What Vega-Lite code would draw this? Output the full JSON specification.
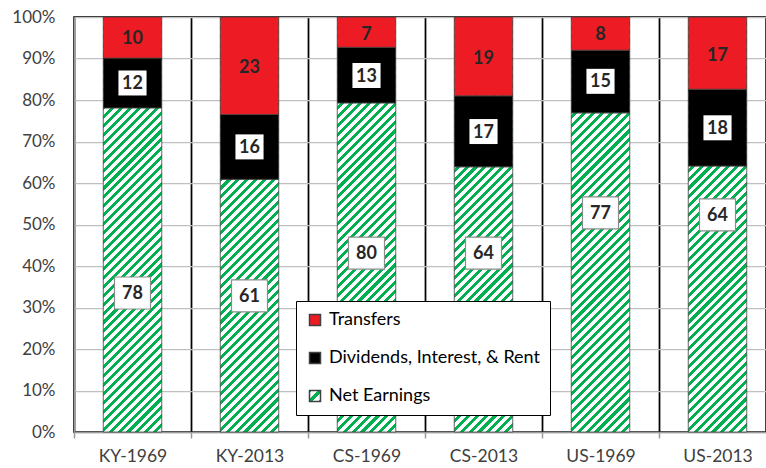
{
  "$schema": "https://vega.github.io/schema/vega-lite/v6.json",
  "width": 692,
  "height": 415,
  "autosize": {"type": "none"},
  "padding": {"left": 74, "top": 17, "right": 0, "bottom": 36},
  "background": "#ffffff",
  "data": {
    "values": [
      {"cat": "KY-1969", "series": "Net Earnings", "value": 78.1, "label": "78", "ly": 33.5},
      {"cat": "KY-1969", "series": "Dividends, Interest, & Rent", "value": 12.0, "label": "12", "ly": 84.1},
      {"cat": "KY-1969", "series": "Transfers", "value": 9.9, "label": "10", "ly": 95.0},
      {"cat": "KY-2013", "series": "Net Earnings", "value": 60.9, "label": "61", "ly": 32.8},
      {"cat": "KY-2013", "series": "Dividends, Interest, & Rent", "value": 15.6, "label": "16", "ly": 68.7},
      {"cat": "KY-2013", "series": "Transfers", "value": 23.5, "label": "23", "ly": 88.0},
      {"cat": "CS-1969", "series": "Net Earnings", "value": 79.3, "label": "80", "ly": 43.1},
      {"cat": "CS-1969", "series": "Dividends, Interest, & Rent", "value": 13.4, "label": "13", "ly": 85.9},
      {"cat": "CS-1969", "series": "Transfers", "value": 7.3, "label": "7", "ly": 96.0},
      {"cat": "CS-2013", "series": "Net Earnings", "value": 63.9, "label": "64", "ly": 43.1},
      {"cat": "CS-2013", "series": "Dividends, Interest, & Rent", "value": 17.1, "label": "17", "ly": 72.4},
      {"cat": "CS-2013", "series": "Transfers", "value": 19.0, "label": "19", "ly": 90.2},
      {"cat": "US-1969", "series": "Net Earnings", "value": 76.9, "label": "77", "ly": 52.8},
      {"cat": "US-1969", "series": "Dividends, Interest, & Rent", "value": 15.1, "label": "15", "ly": 84.5},
      {"cat": "US-1969", "series": "Transfers", "value": 8.0, "label": "8", "ly": 95.8},
      {"cat": "US-2013", "series": "Net Earnings", "value": 64.1, "label": "64", "ly": 52.3},
      {"cat": "US-2013", "series": "Dividends, Interest, & Rent", "value": 18.5, "label": "18", "ly": 73.3},
      {"cat": "US-2013", "series": "Transfers", "value": 17.4, "label": "17", "ly": 90.9}
    ]
  },
  "encoding": {
    "x": {
      "field": "cat",
      "type": "nominal",
      "sort": ["KY-1969", "KY-2013", "CS-1969", "CS-2013", "US-1969", "US-2013"],
      "scale": {"paddingInner": 0, "paddingOuter": 0, "rangeMax": 702},
      "axis": {
        "title": null,
        "labelAngle": 0,
        "tickBand": "extent",
        "grid": true,
        "gridColor": "#000000",
        "gridWidth": 1.75,
        "domainColor": "#9a9a9a",
        "domainWidth": 1.5,
        "tickColor": "#9a9a9a",
        "tickWidth": 1.5,
        "tickSize": 6,
        "labelFontSize": 17.5,
        "labelColor": "#404040",
        "labelPadding": 9,
        "labelFont": "Lato"
      }
    }
  },
  "layer": [
    {
      "mark": {
        "type": "bar",
        "width": {"band": 0.5},
        "stroke": null,
        "fill": {
          "gradient": "linear",
          "x1": 0, "y1": 0, "x2": 0.1577, "y2": 1.11873,
          "stops": [
            {"offset": 0, "color": "#00b050"}, {"offset": 0.0085, "color": "#00b050"}, {"offset": 0.0085, "color": "#fff"}, {"offset": 0.0189, "color": "#fff"},
            {"offset": 0.0189, "color": "#00b050"}, {"offset": 0.0274, "color": "#00b050"}, {"offset": 0.0274, "color": "#fff"}, {"offset": 0.0377, "color": "#fff"},
            {"offset": 0.0377, "color": "#00b050"}, {"offset": 0.0462, "color": "#00b050"}, {"offset": 0.0462, "color": "#fff"}, {"offset": 0.0566, "color": "#fff"},
            {"offset": 0.0566, "color": "#00b050"}, {"offset": 0.0651, "color": "#00b050"}, {"offset": 0.0651, "color": "#fff"}, {"offset": 0.0755, "color": "#fff"},
            {"offset": 0.0755, "color": "#00b050"}, {"offset": 0.0840, "color": "#00b050"}, {"offset": 0.0840, "color": "#fff"}, {"offset": 0.0943, "color": "#fff"},
            {"offset": 0.0943, "color": "#00b050"}, {"offset": 0.1028, "color": "#00b050"}, {"offset": 0.1028, "color": "#fff"}, {"offset": 0.1132, "color": "#fff"},
            {"offset": 0.1132, "color": "#00b050"}, {"offset": 0.1217, "color": "#00b050"}, {"offset": 0.1217, "color": "#fff"}, {"offset": 0.1321, "color": "#fff"},
            {"offset": 0.1321, "color": "#00b050"}, {"offset": 0.1406, "color": "#00b050"}, {"offset": 0.1406, "color": "#fff"}, {"offset": 0.1509, "color": "#fff"},
            {"offset": 0.1509, "color": "#00b050"}, {"offset": 0.1594, "color": "#00b050"}, {"offset": 0.1594, "color": "#fff"}, {"offset": 0.1698, "color": "#fff"},
            {"offset": 0.1698, "color": "#00b050"}, {"offset": 0.1783, "color": "#00b050"}, {"offset": 0.1783, "color": "#fff"}, {"offset": 0.1887, "color": "#fff"},
            {"offset": 0.1887, "color": "#00b050"}, {"offset": 0.1972, "color": "#00b050"}, {"offset": 0.1972, "color": "#fff"}, {"offset": 0.2075, "color": "#fff"},
            {"offset": 0.2075, "color": "#00b050"}, {"offset": 0.2160, "color": "#00b050"}, {"offset": 0.2160, "color": "#fff"}, {"offset": 0.2264, "color": "#fff"},
            {"offset": 0.2264, "color": "#00b050"}, {"offset": 0.2349, "color": "#00b050"}, {"offset": 0.2349, "color": "#fff"}, {"offset": 0.2453, "color": "#fff"},
            {"offset": 0.2453, "color": "#00b050"}, {"offset": 0.2538, "color": "#00b050"}, {"offset": 0.2538, "color": "#fff"}, {"offset": 0.2642, "color": "#fff"},
            {"offset": 0.2642, "color": "#00b050"}, {"offset": 0.2727, "color": "#00b050"}, {"offset": 0.2727, "color": "#fff"}, {"offset": 0.2830, "color": "#fff"},
            {"offset": 0.2830, "color": "#00b050"}, {"offset": 0.2915, "color": "#00b050"}, {"offset": 0.2915, "color": "#fff"}, {"offset": 0.3019, "color": "#fff"},
            {"offset": 0.3019, "color": "#00b050"}, {"offset": 0.3104, "color": "#00b050"}, {"offset": 0.3104, "color": "#fff"}, {"offset": 0.3208, "color": "#fff"},
            {"offset": 0.3208, "color": "#00b050"}, {"offset": 0.3293, "color": "#00b050"}, {"offset": 0.3293, "color": "#fff"}, {"offset": 0.3396, "color": "#fff"},
            {"offset": 0.3396, "color": "#00b050"}, {"offset": 0.3481, "color": "#00b050"}, {"offset": 0.3481, "color": "#fff"}, {"offset": 0.3585, "color": "#fff"},
            {"offset": 0.3585, "color": "#00b050"}, {"offset": 0.3670, "color": "#00b050"}, {"offset": 0.3670, "color": "#fff"}, {"offset": 0.3774, "color": "#fff"},
            {"offset": 0.3774, "color": "#00b050"}, {"offset": 0.3859, "color": "#00b050"}, {"offset": 0.3859, "color": "#fff"}, {"offset": 0.3962, "color": "#fff"},
            {"offset": 0.3962, "color": "#00b050"}, {"offset": 0.4047, "color": "#00b050"}, {"offset": 0.4047, "color": "#fff"}, {"offset": 0.4151, "color": "#fff"},
            {"offset": 0.4151, "color": "#00b050"}, {"offset": 0.4236, "color": "#00b050"}, {"offset": 0.4236, "color": "#fff"}, {"offset": 0.4340, "color": "#fff"},
            {"offset": 0.4340, "color": "#00b050"}, {"offset": 0.4425, "color": "#00b050"}, {"offset": 0.4425, "color": "#fff"}, {"offset": 0.4528, "color": "#fff"},
            {"offset": 0.4528, "color": "#00b050"}, {"offset": 0.4613, "color": "#00b050"}, {"offset": 0.4613, "color": "#fff"}, {"offset": 0.4717, "color": "#fff"},
            {"offset": 0.4717, "color": "#00b050"}, {"offset": 0.4802, "color": "#00b050"}, {"offset": 0.4802, "color": "#fff"}, {"offset": 0.4906, "color": "#fff"},
            {"offset": 0.4906, "color": "#00b050"}, {"offset": 0.4991, "color": "#00b050"}, {"offset": 0.4991, "color": "#fff"}, {"offset": 0.5094, "color": "#fff"},
            {"offset": 0.5094, "color": "#00b050"}, {"offset": 0.5179, "color": "#00b050"}, {"offset": 0.5179, "color": "#fff"}, {"offset": 0.5283, "color": "#fff"},
            {"offset": 0.5283, "color": "#00b050"}, {"offset": 0.5368, "color": "#00b050"}, {"offset": 0.5368, "color": "#fff"}, {"offset": 0.5472, "color": "#fff"},
            {"offset": 0.5472, "color": "#00b050"}, {"offset": 0.5557, "color": "#00b050"}, {"offset": 0.5557, "color": "#fff"}, {"offset": 0.5660, "color": "#fff"},
            {"offset": 0.5660, "color": "#00b050"}, {"offset": 0.5745, "color": "#00b050"}, {"offset": 0.5745, "color": "#fff"}, {"offset": 0.5849, "color": "#fff"},
            {"offset": 0.5849, "color": "#00b050"}, {"offset": 0.5934, "color": "#00b050"}, {"offset": 0.5934, "color": "#fff"}, {"offset": 0.6038, "color": "#fff"},
            {"offset": 0.6038, "color": "#00b050"}, {"offset": 0.6123, "color": "#00b050"}, {"offset": 0.6123, "color": "#fff"}, {"offset": 0.6226, "color": "#fff"},
            {"offset": 0.6226, "color": "#00b050"}, {"offset": 0.6311, "color": "#00b050"}, {"offset": 0.6311, "color": "#fff"}, {"offset": 0.6415, "color": "#fff"},
            {"offset": 0.6415, "color": "#00b050"}, {"offset": 0.6500, "color": "#00b050"}, {"offset": 0.6500, "color": "#fff"}, {"offset": 0.6604, "color": "#fff"},
            {"offset": 0.6604, "color": "#00b050"}, {"offset": 0.6689, "color": "#00b050"}, {"offset": 0.6689, "color": "#fff"}, {"offset": 0.6792, "color": "#fff"},
            {"offset": 0.6792, "color": "#00b050"}, {"offset": 0.6877, "color": "#00b050"}, {"offset": 0.6877, "color": "#fff"}, {"offset": 0.6981, "color": "#fff"},
            {"offset": 0.6981, "color": "#00b050"}, {"offset": 0.7066, "color": "#00b050"}, {"offset": 0.7066, "color": "#fff"}, {"offset": 0.7170, "color": "#fff"},
            {"offset": 0.7170, "color": "#00b050"}, {"offset": 0.7255, "color": "#00b050"}, {"offset": 0.7255, "color": "#fff"}, {"offset": 0.7358, "color": "#fff"},
            {"offset": 0.7358, "color": "#00b050"}, {"offset": 0.7443, "color": "#00b050"}, {"offset": 0.7443, "color": "#fff"}, {"offset": 0.7547, "color": "#fff"},
            {"offset": 0.7547, "color": "#00b050"}, {"offset": 0.7632, "color": "#00b050"}, {"offset": 0.7632, "color": "#fff"}, {"offset": 0.7736, "color": "#fff"},
            {"offset": 0.7736, "color": "#00b050"}, {"offset": 0.7821, "color": "#00b050"}, {"offset": 0.7821, "color": "#fff"}, {"offset": 0.7925, "color": "#fff"},
            {"offset": 0.7925, "color": "#00b050"}, {"offset": 0.8010, "color": "#00b050"}, {"offset": 0.8010, "color": "#fff"}, {"offset": 0.8113, "color": "#fff"},
            {"offset": 0.8113, "color": "#00b050"}, {"offset": 0.8198, "color": "#00b050"}, {"offset": 0.8198, "color": "#fff"}, {"offset": 0.8302, "color": "#fff"},
            {"offset": 0.8302, "color": "#00b050"}, {"offset": 0.8387, "color": "#00b050"}, {"offset": 0.8387, "color": "#fff"}, {"offset": 0.8491, "color": "#fff"},
            {"offset": 0.8491, "color": "#00b050"}, {"offset": 0.8576, "color": "#00b050"}, {"offset": 0.8576, "color": "#fff"}, {"offset": 0.8679, "color": "#fff"},
            {"offset": 0.8679, "color": "#00b050"}, {"offset": 0.8764, "color": "#00b050"}, {"offset": 0.8764, "color": "#fff"}, {"offset": 0.8868, "color": "#fff"},
            {"offset": 0.8868, "color": "#00b050"}, {"offset": 0.8953, "color": "#00b050"}, {"offset": 0.8953, "color": "#fff"}, {"offset": 0.9057, "color": "#fff"},
            {"offset": 0.9057, "color": "#00b050"}, {"offset": 0.9142, "color": "#00b050"}, {"offset": 0.9142, "color": "#fff"}, {"offset": 0.9245, "color": "#fff"},
            {"offset": 0.9245, "color": "#00b050"}, {"offset": 0.9330, "color": "#00b050"}, {"offset": 0.9330, "color": "#fff"}, {"offset": 0.9434, "color": "#fff"},
            {"offset": 0.9434, "color": "#00b050"}, {"offset": 0.9519, "color": "#00b050"}, {"offset": 0.9519, "color": "#fff"}, {"offset": 0.9623, "color": "#fff"},
            {"offset": 0.9623, "color": "#00b050"}, {"offset": 0.9708, "color": "#00b050"}, {"offset": 0.9708, "color": "#fff"}, {"offset": 0.9811, "color": "#fff"},
            {"offset": 0.9811, "color": "#00b050"}, {"offset": 0.9896, "color": "#00b050"}, {"offset": 0.9896, "color": "#fff"}, {"offset": 1, "color": "#fff"}
          ]
        }
      },
      "encoding": {
        "y": {
          "aggregate": "sum",
          "field": "value",
          "type": "quantitative",
          "title": null,
          "scale": {"domain": [0, 100], "nice": false}
        }
      }
    },
    {
      "transform": [
        {"calculate": "indexof(['Net Earnings', 'Dividends, Interest, & Rent', 'Transfers'], datum.series)", "as": "stackOrder"}
      ],
      "mark": {"type": "bar", "width": {"band": 0.5}, "stroke": "#404040", "strokeWidth": 0.8},
      "encoding": {
        "y": {
          "field": "value",
          "type": "quantitative",
          "stack": "zero",
          "title": null,
          "scale": {"domain": [0, 100], "nice": false}
        },
        "order": {"field": "stackOrder", "type": "quantitative", "sort": "ascending"},
        "fillOpacity": {
          "condition": {"test": "datum.series === 'Net Earnings'", "value": 0},
          "value": 1
        },
        "fill": {
          "field": "series",
          "type": "nominal",
          "scale": {
            "domain": ["Net Earnings", "Dividends, Interest, & Rent", "Transfers"],
            "range": [
              {"expr": "{gradient: 'linear', x1: 0, y1: 0, x2: 1, y2: 1, stops: [{offset: 0, color: '#00b050'}, {offset: 0.1, color: '#00b050'}, {offset: 0.1, color: '#ffffff'}, {offset: 0.37, color: '#ffffff'}, {offset: 0.37, color: '#00b050'}, {offset: 0.63, color: '#00b050'}, {offset: 0.63, color: '#ffffff'}, {offset: 0.9, color: '#ffffff'}, {offset: 0.9, color: '#00b050'}, {offset: 1, color: '#00b050'}]}"},
              "#000000",
              "#ed1c24"
            ]
          },
          "legend": {
            "orient": "none",
            "legendX": 222,
            "legendY": 284,
            "title": null,
            "values": ["Transfers", "Dividends, Interest, & Rent", "Net Earnings"],
            "symbolType": "square",
            "symbolSize": 121,
            "symbolOpacity": 1,
            "labelFontSize": 18,
            "labelFont": "Lato",
            "labelColor": "#000000",
            "labelLimit": 400,
            "labelOffset": 5,
            "rowPadding": 20,
            "padding": 10,
            "fillColor": "#ffffff",
            "strokeColor": "#000000"
          }
        }
      }
    },
    {
      "transform": [{"filter": "datum.series !== 'Transfers'"}],
      "mark": {
        "type": "point",
        "shape": "M-1.125,-1H1.125V1H-1.125Z",
        "filled": true,
        "fill": "#ffffff",
        "stroke": "#8c8c8c",
        "strokeWidth": 1.2,
        "opacity": 1,
        "fillOpacity": 1
      },
      "encoding": {
        "y": {"field": "ly", "type": "quantitative", "title": null},
        "size": {
          "condition": {"test": "datum.series === 'Net Earnings'", "value": 1024},
          "value": 625
        },
        "strokeOpacity": {
          "condition": {"test": "datum.series === 'Net Earnings'", "value": 1},
          "value": 0
        }
      }
    },
    {
      "mark": {
        "type": "text",
        "font": "Lato",
        "fontWeight": "bold",
        "fontSize": 18,
        "color": "#262626",
        "baseline": "middle",
        "dy": 1
      },
      "encoding": {
        "y": {"field": "ly", "type": "quantitative", "title": null},
        "text": {"field": "label", "type": "nominal"}
      }
    }
  ],
  "config": {
    "font": "Lato",
    "view": {"stroke": "#000000", "strokeWidth": 1.5},
    "axisY": {
      "domainColor": "#9a9a9a",
      "domainWidth": 1.5,
      "ticks": false,
      "grid": true,
      "gridColor": "#c0c0c0",
      "gridWidth": 1.25,
      "labelFontSize": 17,
      "labelColor": "#404040",
      "labelPadding": 19,
      "values": [0, 10, 20, 30, 40, 50, 60, 70, 80, 90, 100],
      "labelExpr": "datum.value + '%'"
    }
  }
}
